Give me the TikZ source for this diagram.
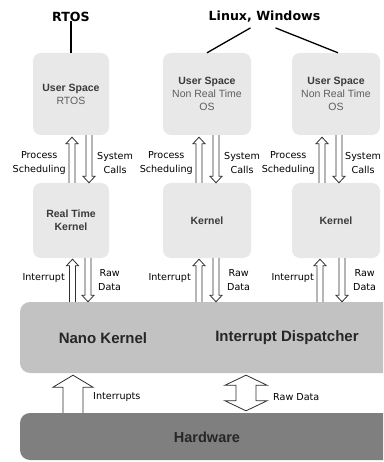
\documentclass[tikz,border=0pt]{standalone}
\usepackage{fontspec}
\setmainfont{Liberation Sans}
\newfontfamily\lblfont{DejaVu Sans}
\usetikzlibrary{calc}
\definecolor{boxlight}{HTML}{E8E8E8}
\definecolor{bandgray}{HTML}{C2C2C2}
\definecolor{hwgray}{HTML}{7F7F7F}
\definecolor{linecol}{HTML}{303030}
\definecolor{textdark}{HTML}{3A3A3A}
\definecolor{textmid}{HTML}{5E5E5E}
\definecolor{bandtext}{HTML}{262626}

% hollow up arrow: x, lower node, upper node, half shaft, half head, head length, tip gap
\newcommand\arrUp[7]{%
  \coordinate (hb) at (#1,0 |- #2.north);
  \coordinate (ht) at ($(#1,0 |- #3.south)+(0,#7)$);
  \draw[harrow] ($(hb)+(-#4,0)$) -- ($(ht)+(-#4,#6)$) -- ($(ht)+(-#5,#6)$) -- (ht)
     -- ($(ht)+(#5,#6)$) -- ($(ht)+(#4,#6)$) -- ($(hb)+(#4,0)$);
}
% hollow down arrow: x, upper node, lower node, half shaft, half head, head length, tip gap
\newcommand\arrDown[7]{%
  \coordinate (ha) at (#1,0 |- #2.south);
  \coordinate (ht) at ($(#1,0 |- #3.north)+(0,-#7)$);
  \draw[harrow] ($(ha)+(-#4,0)$) -- ($(ht)+(-#4,-#6)$) -- ($(ht)+(-#5,-#6)$) -- (ht)
     -- ($(ht)+(#5,-#6)$) -- ($(ht)+(#4,-#6)$) -- ($(ha)+(#4,0)$);
}
% hollow double arrow: x, upper node, lower node, half shaft, half head, head length, tip gap
\newcommand\arrBoth[7]{%
  \coordinate (hu) at ($(#1,0 |- #2.south)+(0,#7)$);
  \coordinate (hd) at ($(#1,0 |- #3.north)+(0,-#7)$);
  \draw[harrow] (hu) -- ($(hu)+(#5,#6)$) -- ($(hu)+(#4,#6)$) -- ($(hd)+(#4,-#6)$)
     -- ($(hd)+(#5,-#6)$) -- (hd) -- ($(hd)+(-#5,-#6)$) -- ($(hd)+(-#4,-#6)$)
     -- ($(hu)+(-#4,#6)$) -- ($(hu)+(-#5,#6)$) -- cycle;
}

\begin{document}
\begin{tikzpicture}[x=1pt,y=-1pt,
  harrow/.style={draw=linecol, fill=white, line width=0.8pt, line join=miter},
  osbox/.style={fill=boxlight, rounded corners=8pt, inner sep=0pt, align=center,
     minimum height=82, font=\fontsize{10.5}{13}\selectfont},
  kbox/.style={osbox, minimum height=75},
  band/.style={rounded corners=10pt, inner sep=0pt, minimum width=400},
  bandlbl/.style={inner sep=0pt, font=\bfseries\fontsize{15}{17}\selectfont, text=bandtext},
  lbl/.style={inner sep=0pt, align=center, text=black,
     font=\lblfont\fontsize{9.6}{14}\selectfont},
  ttl/.style={inner sep=2pt, font=\lblfont\bfseries\fontsize{12.6}{14}\selectfont},
  conn/.style={draw=black, line width=1.6pt}
]
\useasboundingbox (0,0) rectangle (383,462);
\clip (0,0) rectangle (383,462);

% boxes
\node[osbox, minimum width=76] (u1) at (71,94)
  {\textcolor{textdark}{\textbf{User Space}}\\\textcolor{textmid}{RTOS}};
\node[osbox, minimum width=88] (u2) at (207,94)
  {\textcolor{textdark}{\textbf{User Space}}\\\textcolor{textmid}{Non Real Time}\\\textcolor{textmid}{OS}};
\node[osbox, minimum width=88] (u3) at (336,94)
  {\textcolor{textdark}{\textbf{User Space}}\\\textcolor{textmid}{Non Real Time}\\\textcolor{textmid}{OS}};

\node[kbox, minimum width=76] (k1) at (71,220.5)
  {\textcolor{textdark}{\textbf{Real Time}}\\\textcolor{textdark}{\textbf{Kernel}}};
\node[kbox, minimum width=88] (k2) at (207,220.5) {\textcolor{textdark}{\textbf{Kernel}}};
\node[kbox, minimum width=88] (k3) at (336,220.5) {\textcolor{textdark}{\textbf{Kernel}}};

\node[band, fill=bandgray, minimum height=71] (nano) at (220,337.5) {};
\node[bandlbl] (nk) at (103,338) {Nano Kernel};
\node[bandlbl] (id) at (287,338) {Interrupt Dispatcher};

\node[band, fill=hwgray, minimum height=47] (hw) at (220,436.5) {};
\node[bandlbl, font=\bfseries\fontsize{14.5}{16}\selectfont] (hwt) at (207,437) {Hardware};

% titles
\node[ttl] (rtos) at (71,17) {RTOS};
\node[ttl] (lw) at (264.5,17) {Linux, Windows};
\draw[conn] ([yshift=3pt]rtos.south) -- (u1.north);
\draw[draw=black, line width=1.3pt] ([xshift=-14pt,yshift=-3pt]lw.south) -- (u2.north);
\draw[draw=black, line width=1.3pt] ([xshift=11pt,yshift=-3pt]lw.south) -- ([xshift=2pt]u3.north);

% user <-> kernel arrows
\arrUp{72}{k1}{u1}{3}{6}{6.5}{2}
\arrDown{89}{u1}{k1}{3}{6}{6.5}{0}
\arrUp{199}{k2}{u2}{3}{6}{6.5}{2}
\arrDown{216}{u2}{k2}{3}{6}{6.5}{0}
\arrUp{322}{k3}{u3}{3}{6}{6.5}{2}
\arrDown{339}{u3}{k3}{3}{6}{6.5}{0}

% kernel <-> nano arrows
\arrUp{72.5}{nano}{k1}{3}{6}{6.5}{1}
\arrDown{88}{k1}{nano}{3}{6}{6.5}{0}
\arrUp{199}{nano}{k2}{3}{6}{6.5}{1}
\arrDown{216}{k2}{nano}{3}{6}{6.5}{0}
\arrUp{320}{nano}{k3}{3}{6}{6.5}{1}
\arrDown{342}{k3}{nano}{3}{6}{6.5}{0}

% nano <-> hardware arrows
\arrUp{73}{hw}{nano}{10}{20}{12}{2}
\arrBoth{246}{nano}{hw}{10}{21}{10}{2}

% labels
\node[lbl, anchor=east] (ps1) at (66,163) {Process\\Scheduling};
\node[lbl, anchor=west] (sc1) at (97,163) {System\\Calls};
\node[lbl, anchor=east] (ps2) at (193,163) {Process\\Scheduling};
\node[lbl, anchor=west] (sc2) at (224,163) {System\\Calls};
\node[lbl, anchor=east] (ps3) at (315,163) {Process\\Scheduling};
\node[lbl, anchor=west] (sc3) at (345,163) {System\\Calls};

\node[lbl, anchor=east] (ir1) at (65,278) {Interrupt};
\node[lbl, anchor=west] (rd1) at (98,280.5) {Raw\\Data};
\node[lbl, anchor=east] (ir2) at (191,278) {Interrupt};
\node[lbl, anchor=west] (rd2) at (227,280.5) {Raw\\Data};
\node[lbl, anchor=east] (ir3) at (314,278) {Interrupt};
\node[lbl, anchor=west] (rd3) at (353,280.5) {Raw\\Data};

\node[lbl, anchor=west] (irs) at (93,397) {Interrupts};
\node[lbl, anchor=west] (rdb) at (273,397) {Raw Data};
\end{tikzpicture}
\end{document}
